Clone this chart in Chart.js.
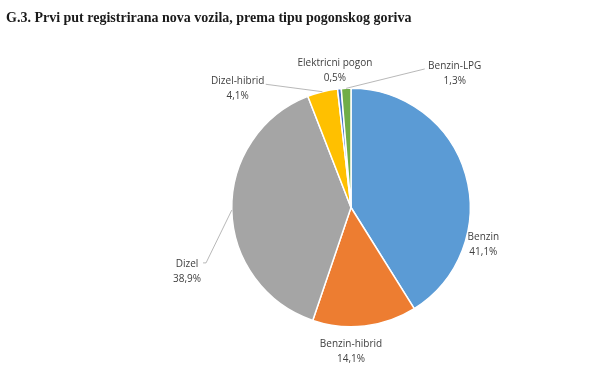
<!DOCTYPE html>
<html>
<head>
<meta charset="utf-8">
<script src="https://cdn.jsdelivr.net/npm/chart.js@4/dist/chart.umd.min.js"></script>
<style>
html,body{margin:0;padding:0;background:#fff;}
#wrap{position:relative;width:615px;height:373px;}
</style>
</head>
<body>
<div id="wrap"><canvas id="c" width="615" height="373"></canvas></div>
<script>
const titleText = 'G.3. Prvi put registrirana nova vozila, prema tipu pogonskog goriva';
const categories = ['Benzin', 'Benzin-hibrid', 'Dizel', 'Dizel-hibrid', 'Elektricni pogon', 'Benzin-LPG'];
const shares = [41.1, 14.1, 38.9, 4.1, 0.5, 1.3];
const valueLabels = ['41,1%', '14,1%', '38,9%', '4,1%', '0,5%', '1,3%'];

const sliceColors = ['#5B9BD5', '#ED7D31', '#A5A5A5', '#FFC000', '#4472C4', '#70AD47'];
// label centre offsets in units of the pie radius, relative to the pie centre
const labelOffsets = [[1.11, 0.31], [0.0, 1.21], [-1.375, 0.54], [-0.95, -1.0], [-0.135, -1.15], [0.87, -1.12]];
// leader line start points (relative to label centre, px), null = no leader
const leaderStarts = [null, null, [19, -9, 14], [28, -4, 0], null, [-30, -5, 0]];

const labelPlugin = {
  id: 'pieLabels',
  afterDraw(chart) {
    const ctx = chart.ctx;
    ctx.save();
    // title
    ctx.font = 'bold 14px "Liberation Serif", serif';
    ctx.fillStyle = '#1a1a1a';
    ctx.textAlign = 'left';
    ctx.textBaseline = 'alphabetic';
    ctx.fillText(titleText, 6, 21.5);

    const meta = chart.getDatasetMeta(0);
    ctx.font = '10px "Open Sans", sans-serif';
    ctx.fillStyle = '#404040';
    ctx.textAlign = 'center';
    ctx.textBaseline = 'middle';
    meta.data.forEach((arc, i) => {
      const p = arc.getProps(['x', 'y', 'startAngle', 'endAngle', 'outerRadius'], true);
      const r = p.outerRadius;
      const lx = p.x + labelOffsets[i][0] * r;
      const ly = p.y + labelOffsets[i][1] * r;
      ctx.fillText(categories[i], lx, ly - 7.5);
      ctx.fillText(valueLabels[i], lx, ly + 7.5);
      const ls = leaderStarts[i];
      if (ls) {
        const mid = (p.startAngle + p.endAngle) / 2;
        const ex = p.x + Math.cos(mid) * r;
        const ey = p.y + Math.sin(mid) * r;
        ctx.strokeStyle = '#a6a6a6';
        ctx.lineWidth = 0.8;
        ctx.beginPath();
        const sx = lx + ls[0], sy = ly + ls[1];
        if (ls[2]) {
          ctx.moveTo(sx - 3, sy);
          ctx.lineTo(sx, sy);
        } else {
          ctx.moveTo(sx, sy);
        }
        ctx.lineTo(ex, ey);
        ctx.stroke();
      }
    });
    ctx.restore();
  }
};

new Chart(document.getElementById('c'), {
  type: 'pie',
  data: {
    labels: categories,
    datasets: [{
      data: shares,
      backgroundColor: sliceColors,
      borderColor: '#ffffff',
      borderWidth: 1.5
    }]
  },
  options: {
    responsive: false,
    animation: false,
    events: [],
    layout: { padding: { top: 87.5, bottom: 45.5, left: 231, right: 144 } },
    plugins: {
      legend: { display: false },
      title: { display: false },
      tooltip: { enabled: false }
    }
  },
  plugins: [labelPlugin]
});
</script>
</body>
</html>
